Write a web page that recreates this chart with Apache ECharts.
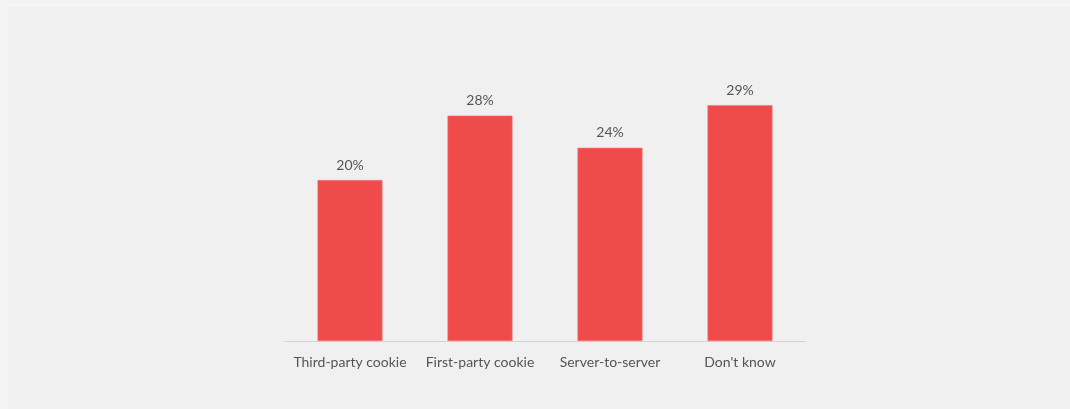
<!DOCTYPE html>
<html>
<head>
<meta charset="utf-8">
<script src="https://cdn.jsdelivr.net/npm/echarts@6/dist/echarts.min.js"></script>
<style>
html,body{margin:0;padding:0;background:#f4f4f4;width:1070px;height:409px;overflow:hidden;}
#chart{position:absolute;left:8px;top:7px;width:1062px;height:402px;background:#f0f0f0;}
</style>
</head>
<body>
<div id="chart"></div>
<script>
const categories = ["Third-party cookie", "First-party cookie", "Server-to-server", "Don't know"];
const values = [20, 28, 24, 29.3];

const chart = echarts.init(document.getElementById('chart'));
chart.setOption({
  backgroundColor: '#f0f0f0',
  animation: false,
  grid: {left: 277, width: 520, top: 12, bottom: 68},
  xAxis: {
    type: 'category',
    data: categories,
    axisLine: {lineStyle: {color: '#d4d4d4', width: 1}},
    axisTick: {show: false},
    axisLabel: {interval: 0, color: '#555', fontSize: 14, margin: 14, fontFamily: 'Lato, "Noto Sans", sans-serif'}
  },
  yAxis: {
    type: 'value', min: 0, max: 40, show: false,
    splitLine: {show: false}
  },
  series: [{
    type: 'bar',
    data: values,
    barWidth: '50%',
    itemStyle: {color: '#f04b4b', borderColor: '#f47a7a', borderWidth: 0.6},
    label: {
      show: true, position: 'top', distance: 8,
      formatter: p => Math.round(p.value) + '%', color: '#555', fontSize: 14,
      fontFamily: 'Lato, "Noto Sans", sans-serif'
    }
  }]
});
</script>
</body>
</html>
